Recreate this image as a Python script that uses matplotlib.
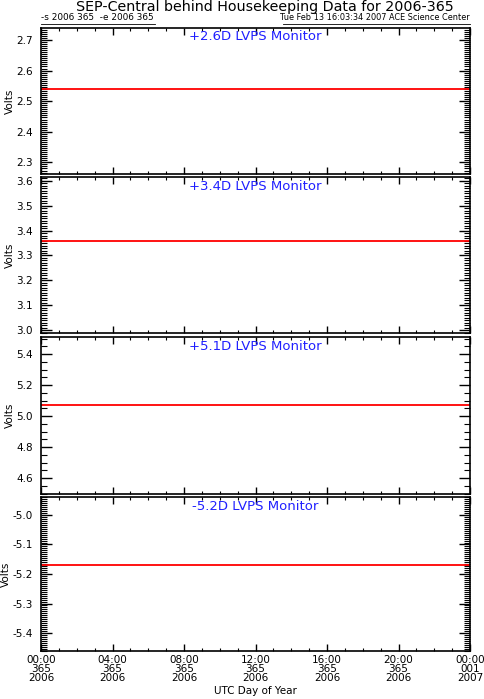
import matplotlib
matplotlib.use('Agg')
import matplotlib.pyplot as plt
from matplotlib.ticker import MultipleLocator, AutoMinorLocator, FixedLocator
from matplotlib.lines import Line2D

# ---- data ----
hours = [0, 24]
panel_titles = ['+2.6D LVPS Monitor', '+3.4D LVPS Monitor', '+5.1D LVPS Monitor', '-5.2D LVPS Monitor']
panel_values = [2.54, 3.357, 5.07, -5.17]
ylims = [(2.262, 2.739), (2.988, 3.616), (4.497, 5.51), (-5.461, -4.939)]
ymajor = [0.1, 0.1, 0.2, 0.1]
yminor_n = [15, 10, 4, 15]
xtick_hours = [0, 4, 8, 12, 16, 20, 24]
xtick_labels = ['00:00\n365\n2006', '04:00\n365\n2006', '08:00\n365\n2006', '12:00\n365\n2006',
                '16:00\n365\n2006', '20:00\n365\n2006', '00:00\n001\n2007']

plt.rcParams['font.family'] = ['DejaVu Sans']
W, H = 484, 699
fig = plt.figure(figsize=(W / 100, H / 100), dpi=100)

left, right = 41, 470
tops = [28, 177, 337, 497]
bottoms = [174, 333, 494, 651]

for i in range(4):
    ax = fig.add_axes([left / W, 1 - bottoms[i] / H, (right - left) / W, (bottoms[i] - tops[i]) / H])
    ax.plot(hours, [panel_values[i]] * len(hours), color='#ff0000', lw=1.3)
    ax.set_xlim(0, 24)
    ax.set_ylim(*ylims[i])
    ax.yaxis.set_major_locator(MultipleLocator(ymajor[i]))
    ax.yaxis.set_minor_locator(AutoMinorLocator(yminor_n[i]))
    ax.yaxis.set_major_formatter(matplotlib.ticker.FormatStrFormatter('%.1f'))
    ax.xaxis.set_major_locator(FixedLocator(xtick_hours))
    ax.xaxis.set_minor_locator(MultipleLocator(1))
    ax.tick_params(axis='both', which='both', direction='in', top=True, right=True,
                   labelsize=7.5)
    ax.tick_params(axis='y', which='major', length=8, width=1, pad=6)
    ax.tick_params(axis='y', which='minor', length=4, width=0.8)
    ax.tick_params(axis='x', which='major', length=5, width=1, pad=3)
    ax.tick_params(axis='x', which='minor', length=2.5, width=0.8)
    for s in ax.spines.values():
        s.set_linewidth(1.2)
    ax.set_ylabel('Volts', fontsize=7.5, labelpad=1)
    ax.text(0.5, 0.94, panel_titles[i], transform=ax.transAxes, ha='center', va='center',
            color='#2020ff', fontsize=9.5)
    if i < 3:
        ax.set_xticklabels([])
    else:
        ax.set_xticklabels(xtick_labels, fontsize=7.5, linespacing=0.85)

fig.text(255 / W, 1 - 691 / H, 'UTC Day of Year', ha='center', va='center', fontsize=7.5)
fig.text(265 / W, 1 - 7 / H, 'SEP-Central behind Housekeeping Data for 2006-365',
         ha='center', va='center', fontsize=10.3)
fig.text(left / W, 1 - 22 / H, '-s 2006 365  -e 2006 365', ha='left', va='bottom', fontsize=6.4)
fig.text(right / W, 1 - 22 / H, 'Tue Feb 13 16:03:34 2007 ACE Science Center',
         ha='right', va='bottom', fontsize=5.9)
fig.add_artist(Line2D([left / W, 155 / W], [1 - 23.5 / H] * 2, color='black', lw=0.6))
fig.add_artist(Line2D([283 / W, right / W], [1 - 23.5 / H] * 2, color='black', lw=0.6))

fig.savefig('out.png', dpi=100)
